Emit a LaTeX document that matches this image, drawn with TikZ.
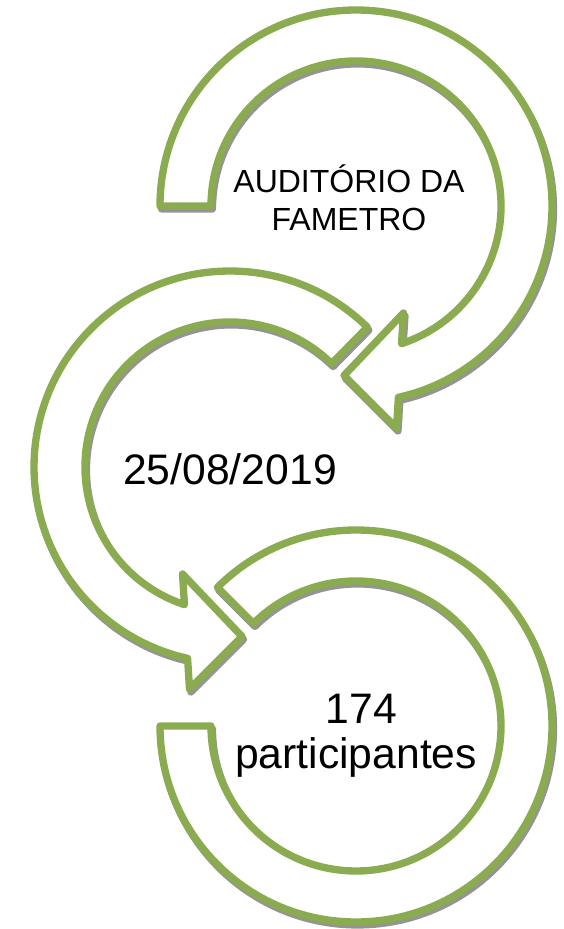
\documentclass[tikz,border=0pt]{standalone}
\usepackage{fontspec}
\setmainfont{Liberation Sans}
\usepackage{xcolor}
\usepackage{tikz}
\definecolor{bandgreen}{RGB}{139,171,80}

\begin{document}
\begin{tikzpicture}
		[
			x=0.75pt,y=0.75pt,
			band/.style={draw=bandgreen,fill=white,line width=5.5pt,line join=round,
					preaction={draw=black!42,line width=5.5pt,line join=round,
							transform canvas={xshift=1.1pt,yshift=-2.2pt}}},
			every node/.style={align=center,inner sep=0pt},
			small label/.style={font=\fontsize{24}{28.5}\selectfont},
			big label/.style={font=\fontsize{32}{34}\selectfont}]
		\useasboundingbox (0,0) rectangle (564,929);
		% top arrow, turning clockwise
		\begin{scope}[shift={(356,723)}]
			\draw[band] (180:196) arc[start angle=180,end angle=-77.5,radius=196]
			-- (40.5,-222) -- (-12,-169.5) -- (47.5,-107) -- (-71.7:145)
			arc[start angle=-71.7,end angle=180,radius=145] -- cycle;
			\node[small label] (Place) at (-7,8) {AUDITÓRIO DA\\FAMETRO};
		\end{scope}
		% middle arrow, turning the other way
		\begin{scope}[shift={(230,462)}]
			\draw[band] (45.5:196) arc[start angle=45.5,end angle=257.5,radius=196]
			-- (-40.5,-222) -- (12,-169.5) -- (-47.5,-107) -- (251.7:145)
			arc[start angle=251.7,end angle=45.5,radius=145] -- cycle;
			\node[big label] (Date) at (0,-2) {25/08/2019};
		\end{scope}
		% bottom band, no head
		\begin{scope}[shift={(356,203)}]
			\draw[band] (180:196) arc[start angle=180,end angle=495,radius=196]
			-- (135:145) arc[start angle=135,end angle=-180,radius=145] -- cycle;
			\node[big label] (Count) at (0,-10) {\hspace*{8pt}174\\participantes};
		\end{scope}
	\end{tikzpicture}
\end{document}
